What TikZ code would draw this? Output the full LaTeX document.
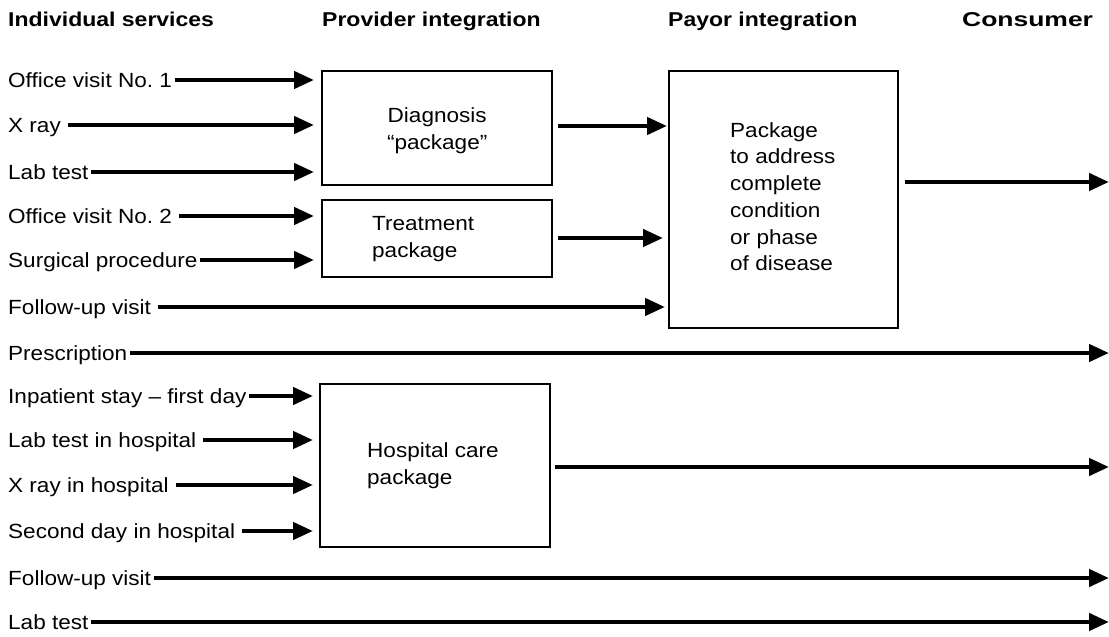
\documentclass[tikz,border=0pt]{standalone}
\usepackage{fontspec}
\setmainfont{Liberation Sans}[FakeStretch=1.1, BoldFeatures={FakeStretch=1.15}]
\usetikzlibrary{arrows.meta}

\begin{document}
\begin{tikzpicture}[x=1pt,y=-1pt,
  txt/.style={font=\fontsize{20.5}{27}\selectfont\frenchspacing},
  hdr/.style={font=\fontsize{20}{27}\selectfont\bfseries, anchor=base west, inner sep=0pt},
  item/.style={txt, anchor=west, inner sep=0pt, text height=14.5pt, text depth=0pt},
  pkg/.style={draw, line width=2.4pt, anchor=north west, inner sep=0pt},
  boxtext/.style={txt, inner sep=0pt},
  arr/.style={line width=4.4pt, -{Triangle[length=20pt,width=17pt]}, shorten <=2.5pt},
  wide/.style={shorten <=7pt},
]
\useasboundingbox (0,0) rectangle (1109,637);

% column headings
\node[hdr] (h1) at (8,26)   {Individual services};
\node[hdr] (h2) at (322,26) {Provider integration};
\node[hdr] (h3) at (668,26) {Payor integration};
\node[hdr] (h4) at (962,26) {\scalebox{1.15}[1]{Consumer}};

% packages
\node[pkg, minimum width=230pt, minimum height=114pt] (diag) at (321,70) {};
\node[boxtext, align=center] at ([yshift=-2pt]diag.center) {Diagnosis\\“package”};

\node[pkg, minimum width=230pt, minimum height=77pt] (treat) at (321,199) {};
\node[boxtext, align=left, anchor=west] at ([xshift=51pt]treat.west) {Treatment\\package};

\node[pkg, minimum width=229pt, minimum height=257pt] (payor) at (668,70) {};
\node[boxtext, align=left, anchor=west, font=\fontsize{20.5}{26.7}\selectfont]
  at ([xshift=62pt,yshift=3pt]payor.west)
  {Package\\to address\\complete\\condition\\or phase\\of disease};

\node[pkg, minimum width=230pt, minimum height=163pt] (hosp) at (319,383) {};
\node[boxtext, align=left, anchor=west] at ([xshift=48pt]hosp.west) {Hospital care\\package};

% individual services
\node[item] (s1)  at (8,80)  {Office visit No. 1};
\node[item] (s2)  at (8,125) {X ray};
\node[item] (s3)  at (8,172) {Lab test};
\node[item] (s4)  at (8,216) {Office visit No. 2};
\node[item] (s5)  at (8,260) {Surgical procedure};
\node[item] (s6)  at (8,307) {Follow-up visit};
\node[item] (s7)  at (8,353) {Prescription};
\node[item] (s8)  at (8,396) {Inpatient stay – first day};
\node[item] (s9)  at (8,440) {Lab test in hospital};
\node[item] (s10) at (8,485) {X ray in hospital};
\node[item] (s11) at (8,531) {Second day in hospital};
\node[item] (s12) at (8,578) {Follow-up visit};
\node[item] (s13) at (8,622) {Lab test};

% consumer side
\coordinate (cons) at (1109,0);

% connectors into the provider packages
\draw[arr, shorten >=7pt] (s1.east) -- (diag.west |- s1.east);
\draw[arr, wide, shorten >=7pt] (s2.east) -- (diag.west |- s2.east);
\draw[arr, shorten >=7pt] (s3.east) -- (diag.west |- s3.east);
\draw[arr, wide, shorten >=7pt] (s4.east) -- (treat.west |- s4.east);
\draw[arr, shorten >=7pt] (s5.east) -- (treat.west |- s5.east);
\draw[arr, shorten >=6pt] (s8.east) -- (hosp.west |- s8.east);
\draw[arr, wide, shorten >=6pt] (s9.east) -- (hosp.west |- s9.east);
\draw[arr, wide, shorten >=6pt] (s10.east) -- (hosp.west |- s10.east);
\draw[arr, wide, shorten >=6pt] (s11.east) -- (hosp.west |- s11.east);

% connectors into the payor package
\draw[arr, shorten <=5pt, shorten >=1pt] (diag.east |- 0,126) -- (payor.west |- 0,126);
\draw[arr, shorten <=5pt, shorten >=5pt] (treat.east |- 0,238) -- (payor.west |- 0,238);
\draw[arr, wide, shorten >=3pt] (s6.east) -- (payor.west |- s6.east);

% connectors to the consumer
\draw[arr, shorten <=6pt] (payor.east |- 0,182) -- (cons |- 0,182);
\draw[arr] (s7.east) -- (cons |- s7.east);
\draw[arr, shorten <=4pt] (hosp.east |- 0,467) -- (cons |- 0,467);
\draw[arr] (s12.east) -- (cons |- s12.east);
\draw[arr] (s13.east) -- (cons |- s13.east);
\end{tikzpicture}
\end{document}
